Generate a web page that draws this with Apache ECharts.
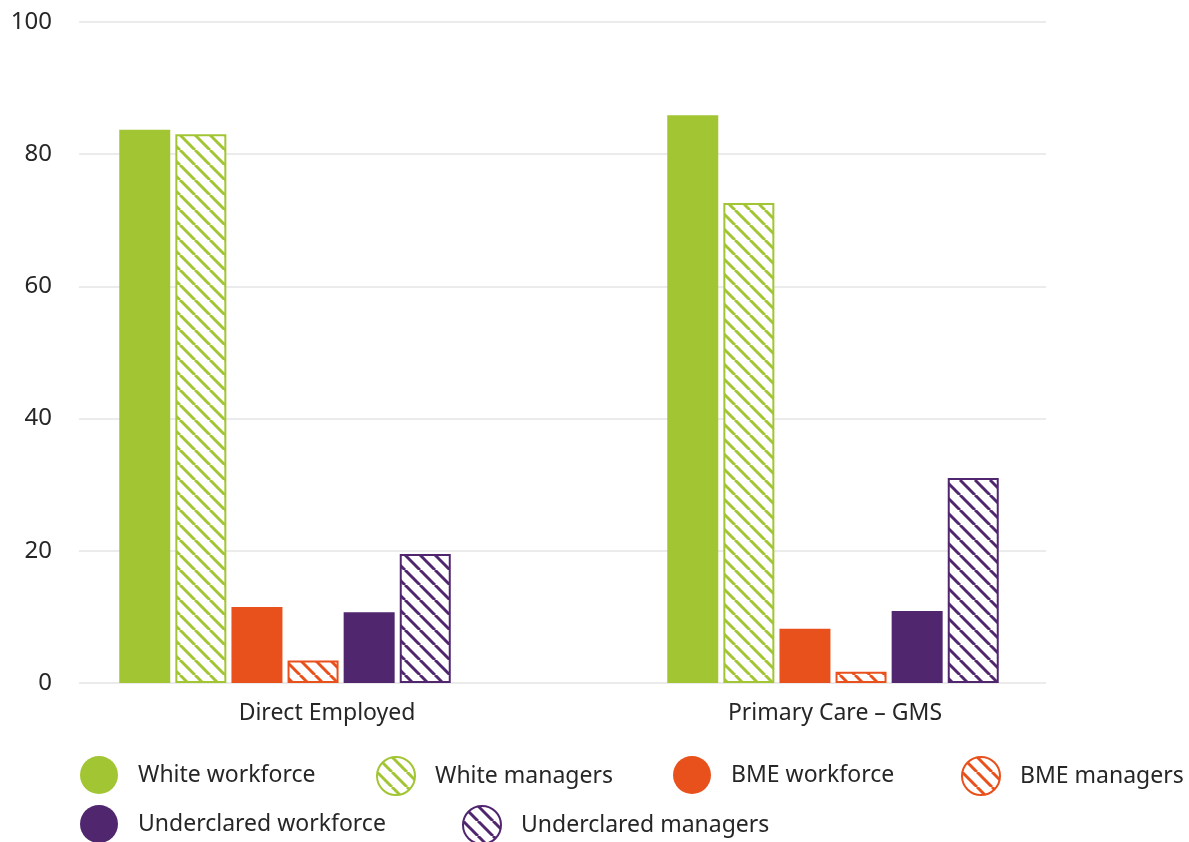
<!DOCTYPE html>
<html>
<head>
<meta charset="utf-8">
<script src="https://cdn.jsdelivr.net/npm/echarts@6/dist/echarts.min.js"></script>
<style>
  html, body { margin: 0; padding: 0; background: #fff; }
  #chart { width: 1189px; height: 842px; }
</style>
</head>
<body>
<div id="chart"></div>
<script>
// data
const categories = ['Direct Employed', 'Primary Care – GMS']
const seriesNames = ['White workforce', 'White managers', 'BME workforce', 'BME managers', 'Underclared workforce', 'Underclared managers']
const whiteWorkforce = [83.7, 85.9]
const whiteManagers = [83.0, 72.6]
const bmeWorkforce = [11.5, 8.2]
const bmeManagers = [3.4, 1.7]
const underWorkforce = [10.7, 10.9]
const underManagers = [19.5, 31.0]
const yMin = 0
const yMax = 100
const yStep = 20

const green = '#a2c534'
const orange = '#e9511c'
const purple = '#50266f'
const textColor = '#262626'
const font = 'Noto Sans'

// diagonal hatch fill used by the "managers" bars
const hatch = (color) => {
  const c = document.createElement('canvas')
  c.width = 15
  c.height = 15
  const ctx = c.getContext('2d')
  ctx.fillStyle = '#fff'
  ctx.fillRect(0, 0, 15, 15)
  ctx.strokeStyle = color
  ctx.lineWidth = 3
  for (const k of [-15, 0, 15]) {
    ctx.beginPath()
    ctx.moveTo(k, 0)
    ctx.lineTo(k + 15, 15)
    ctx.stroke()
  }
  return { image: c, repeat: 'repeat' }
}

const solid = (name, data, color) => ({
  name,
  type: 'bar',
  xAxisIndex: 1,
  yAxisIndex: 1,
  barWidth: 51,
  barGap: '10%',
  itemStyle: { color },
  data
})

const hatched = (name, data, color) => ({
  name,
  type: 'bar',
  xAxisIndex: 1,
  yAxisIndex: 1,
  barWidth: 51,
  barGap: '10%',
  itemStyle: { color: hatch(color), borderColor: color, borderWidth: 2 },
  data
})

// legend items placed one by one (left of icon, vertical centre)
const legendPos = [[80, 775], [376, 775], [673, 775], [961, 775], [80, 824], [462, 824]]
const legends = seriesNames.map((name, i) => ({
  data: [name],
  left: legendPos[i][0],
  top: legendPos[i][1] - 19,
  padding: 0,
  itemWidth: 38,
  itemHeight: 38,
  icon: 'circle',
  selectedMode: false,
  textStyle: { fontFamily: font, fontSize: 23, color: textColor, padding: [0, 0, 0, 15] }
}))

const hiddenY = (gridIndex) => ({ type: 'value', gridIndex, min: yMin, max: yMax, interval: yStep, show: false })

const chart = echarts.init(document.getElementById('chart'))
chart.setOption({
  animation: false,
  backgroundColor: '#fff',
  grid: [
    // gridlines + y labels
    { left: 79, right: 143, top: 22, bottom: 159 },
    // bars
    { left: 11, right: 82, top: 22, bottom: 159 },
    // category labels
    { left: 73, right: 100, top: 22, bottom: 159 }
  ],
  xAxis: [
    { type: 'category', gridIndex: 0, data: categories, show: false },
    { type: 'category', gridIndex: 1, data: categories, show: false },
    {
      type: 'category',
      gridIndex: 2,
      data: categories,
      axisLine: { show: false },
      axisTick: { show: false },
      axisLabel: { fontFamily: font, fontSize: 23, color: textColor, margin: 19 }
    }
  ],
  yAxis: [
    {
      type: 'value',
      gridIndex: 0,
      min: yMin,
      max: yMax,
      interval: yStep,
      axisLine: { show: false },
      axisTick: { show: false },
      axisLabel: { fontFamily: font, fontSize: 24, color: textColor, margin: 27 },
      splitLine: { lineStyle: { color: '#ebebeb', width: 2 } }
    },
    hiddenY(1),
    hiddenY(2)
  ],
  legend: legends,
  series: [
    solid(seriesNames[0], whiteWorkforce, green),
    hatched(seriesNames[1], whiteManagers, green),
    solid(seriesNames[2], bmeWorkforce, orange),
    hatched(seriesNames[3], bmeManagers, orange),
    solid(seriesNames[4], underWorkforce, purple),
    hatched(seriesNames[5], underManagers, purple)
  ]
})
</script>
</body>
</html>
